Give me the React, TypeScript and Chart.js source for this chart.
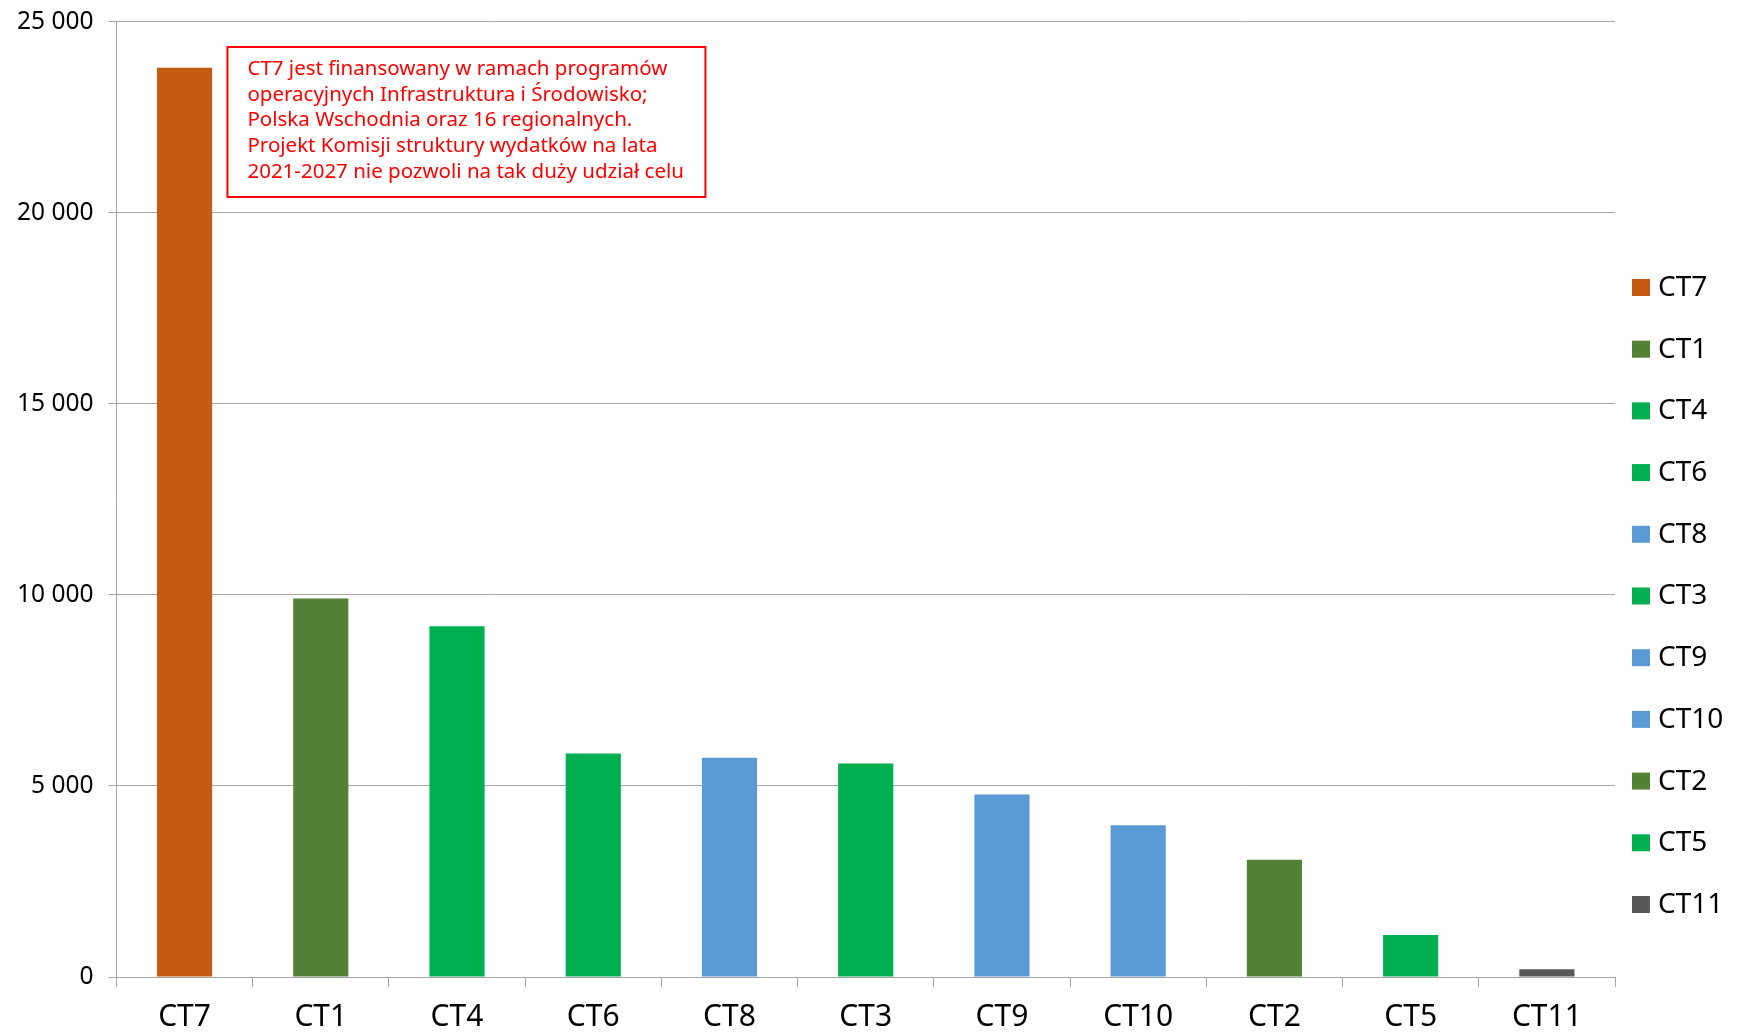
import React, { useEffect, useRef } from "react";
import { Chart, registerables } from "chart.js";

Chart.register(...registerables);

const categories = ["CT7", "CT1", "CT4", "CT6", "CT8", "CT3", "CT9", "CT10", "CT2", "CT5", "CT11"];
const values = [23800, 9910, 9180, 5850, 5740, 5590, 4780, 3970, 3070, 1100, 200];
const barColors = [
  "#C55A11", "#538135", "#00B050", "#00B050", "#5B9BD5", "#00B050",
  "#5B9BD5", "#5B9BD5", "#538135", "#00B050", "#595959",
];
const yMin = 0;
const yMax = 25000;
const yStep = 5000;
const noteLines = [
  "CT7 jest finansowany w ramach programów",
  "operacyjnych Infrastruktura i Środowisko;",
  "Polska Wschodnia oraz 16 regionalnych.",
  "Projekt Komisji struktury wydatków na lata",
  "2021-2027 nie pozwoli na tak duży udział celu",
];

const FONT = "'Noto Sans', 'DejaVu Sans', sans-serif";
const GRID = "#A6A6A6";

const notePlugin = {
  id: "noteBox",
  afterDraw(chart: any) {
    const { ctx, chartArea } = chart;
    const x = chartArea.left + 111;
    const y = chartArea.top + 25;
    const w = 478;
    const h = 150;
    ctx.save();
    ctx.strokeStyle = "#FF0000";
    ctx.lineWidth = 2;
    ctx.fillStyle = "#FFFFFF";
    ctx.fillRect(x, y, w, h);
    ctx.strokeRect(x, y, w, h);
    ctx.fillStyle = "#FF0000";
    ctx.font = `20.5px ${FONT}`;
    ctx.textBaseline = "middle";
    ctx.textAlign = "left";
    noteLines.forEach((line, i) => {
      ctx.fillText(line, x + 20, y + 22 + i * 25.7);
    });
    ctx.restore();
  },
};

const legendPlugin = {
  id: "categoryLegend",
  afterDraw(chart: any) {
    const { ctx, chartArea } = chart;
    const bx = chartArea.right + 17;
    const y0 = chartArea.top + 265;
    const step = 61.7;
    ctx.save();
    ctx.font = `28px ${FONT}`;
    ctx.textBaseline = "middle";
    ctx.textAlign = "left";
    categories.forEach((c, i) => {
      const cy = y0 + i * step;
      ctx.fillStyle = barColors[i];
      ctx.fillRect(bx, cy - 8, 18, 17);
      ctx.fillStyle = "#000000";
      ctx.fillText(c, bx + 26, cy + 1);
    });
    ctx.restore();
  },
};

export default function App() {
  const ref = useRef<HTMLCanvasElement | null>(null);

  useEffect(() => {
    document.body.style.margin = "0";
    const canvas = ref.current;
    if (!canvas) return;
    const chart = new Chart(canvas, {
      type: "bar",
      data: {
        labels: categories,
        datasets: [
          {
            label: "Wydatki",
            data: values,
            backgroundColor: barColors,
            borderWidth: 0,
            barPercentage: 0.405,
            categoryPercentage: 1,
          },
        ],
      },
      options: {
        responsive: false,
        animation: false,
        layout: { padding: { left: 2, right: 123, top: 0, bottom: -13 } },
        plugins: {
          legend: { display: false },
          tooltip: { enabled: false },
        },
        scales: {
          x: {
            offset: true,
            grid: {
              display: true,
              offset: true,
              drawOnChartArea: false,
              drawTicks: true,
              tickLength: 10,
              color: GRID,
              lineWidth: 1,
            },
            border: { display: true, color: GRID, width: 1 },
            ticks: {
              color: "#000000",
              font: { family: FONT, size: 30 },
              padding: 12,
              maxRotation: 0,
              autoSkip: false,
            },
          },
          y: {
            min: yMin,
            max: yMax,
            grid: {
              color: GRID,
              lineWidth: 1,
              drawTicks: true,
              tickLength: 8,
            },
            border: { display: true, color: GRID, width: 1 },
            ticks: {
              stepSize: yStep,
              color: "#000000",
              font: { family: FONT, size: 24.5, lineHeight: 0.57 },
              padding: 15,
              callback: (v: any) =>
                Number(v).toString().replace(/\B(?=(\d{3})+(?!\d))/g, " "),
            },
          },
        },
      },
      plugins: [notePlugin, legendPlugin],
    });
    return () => chart.destroy();
  }, []);

  return (
    <div style={{ width: 1738, height: 1034, background: "#fff" }}>
      <canvas ref={ref} width={1738} height={1034} />
    </div>
  );
}
